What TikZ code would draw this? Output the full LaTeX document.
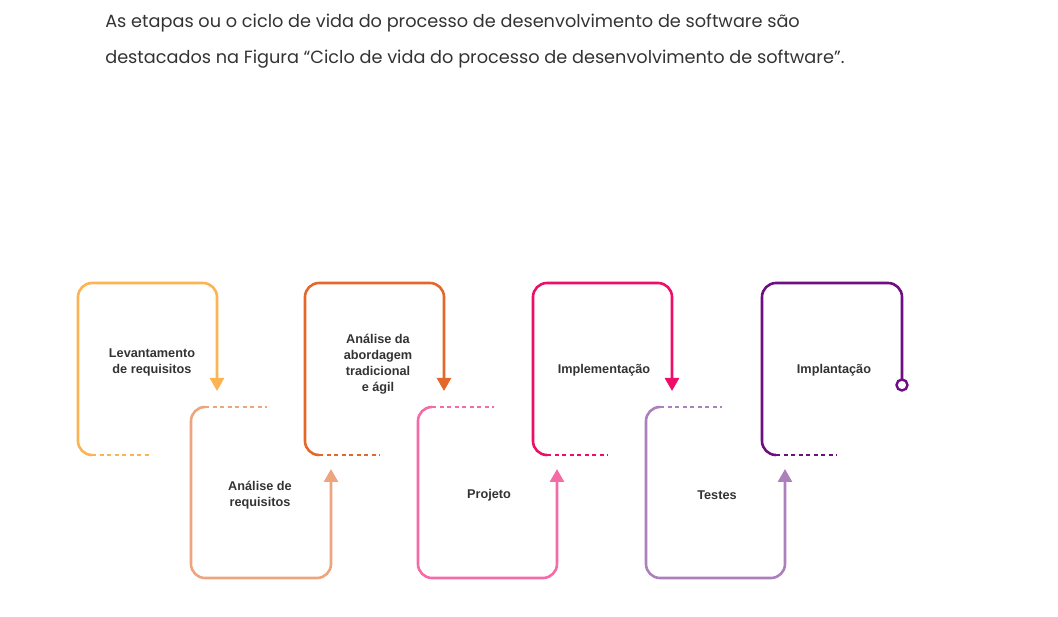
\documentclass[tikz,border=0pt]{standalone}
\usepackage{fontspec}
\setmainfont{Liberation Sans}
\newfontfamily\textofont{Poppins}
\usetikzlibrary{arrows.meta}

\definecolor{textoescuro}{HTML}{333333}
\definecolor{corlevant}{HTML}{FBB451}
\definecolor{coranalise}{HTML}{EEA47E}
\definecolor{corabord}{HTML}{E3682A}
\definecolor{corprojeto}{HTML}{F56BA6}
\definecolor{corimplem}{HTML}{EE0E68}
\definecolor{cortestes}{HTML}{AB80BB}
\definecolor{corimplant}{HTML}{6D0F83}

\begin{document}
\begin{tikzpicture}[x=1pt,y=-1pt,line width=2.6pt,
                    etapa/.style={font=\bfseries\fontsize{12.7}{16}\selectfont,
                                  text=textoescuro,align=center},
                    texto/.style={font=\textofont\fontsize{17.7}{20}\selectfont,
                                  text=textoescuro,anchor=base west,inner sep=0pt},
                    ponta/.style={-{Triangle[width=14pt,length=13pt]}},
                    pontilhado/.style={line width=2.9pt,dash pattern=on 4pt off 3.5pt},
                    curva/.style={rounded corners=14pt}]
  \useasboundingbox (0,0) rectangle (1058,617);

  % texto de abertura
  \node[texto] (linha1) at (104,28)
    {As etapas ou o ciclo de vida do processo de desenvolvimento de software são};
  \node[texto] (linha2) at (104,64)
    {destacados na Figura “Ciclo de vida do processo de desenvolvimento de software”.};

  % etapas de cima
  \draw[corlevant,curva,ponta] (92,455) -- (78,455) -- (78,283) -- (217,283) -- (217,391);
  \draw[corlevant,pontilhado] (92,455) -- (152,455);

  \draw[corabord,curva,ponta] (319,455) -- (305,455) -- (305,283) -- (444,283) -- (444,391);
  \draw[corabord,pontilhado] (319,455) -- (380,455);

  \draw[corimplem,curva,ponta] (547,455) -- (533,455) -- (533,283) -- (672,283) -- (672,391);
  \draw[corimplem,pontilhado] (547,455) -- (608,455);

  \draw[corimplant,curva] (776,455) -- (762,455) -- (762,283) -- (902,283) -- (902,379);
  \draw[corimplant,pontilhado] (776,455) -- (837,455);
  \draw[corimplant,fill=white,line width=2.4pt] (902,385) circle (5.5pt);

  % etapas de baixo
  \draw[coranalise,curva,ponta] (205,407) -- (191,407) -- (191,578) -- (331,578) -- (331,469);
  \draw[coranalise,pontilhado] (205,407) -- (267,407);

  \draw[corprojeto,curva,ponta] (432,407) -- (418,407) -- (418,578) -- (557,578) -- (557,469);
  \draw[corprojeto,pontilhado] (432,407) -- (494,407);

  \draw[cortestes,curva,ponta] (660,407) -- (646,407) -- (646,578) -- (785,578) -- (785,469);
  \draw[cortestes,pontilhado] (660,407) -- (722,407);

  % nomes das etapas
  \node[etapa] (levant)   at (152,362) {Levantamento\\de requisitos};
  \node[etapa] (analise)  at (260,495) {Análise de\\requisitos};
  \node[etapa] (abord)    at (378,364) {Análise da\\abordagem\\tradicional\\e ágil};
  \node[etapa] (projeto)  at (489,495) {Projeto};
  \node[etapa] (implem)   at (604,370) {Implementação};
  \node[etapa] (testes)   at (717,495) {Testes};
  \node[etapa] (implant)  at (834,370) {Implantação};
\end{tikzpicture}
\end{document}
